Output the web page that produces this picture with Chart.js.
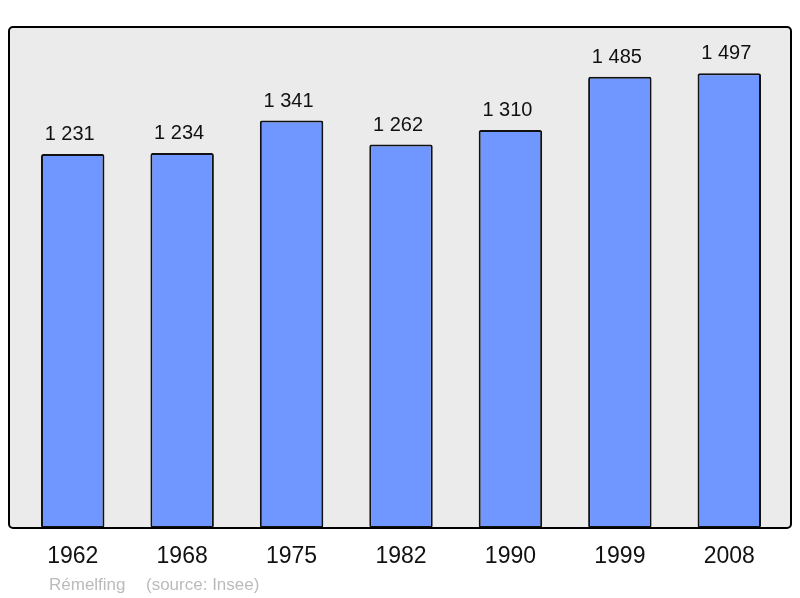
<!DOCTYPE html>
<html>
<head>
<meta charset="utf-8">
<script src="https://cdn.jsdelivr.net/npm/chart.js@4"></script>
<style>
  html, body { margin: 0; padding: 0; background: #fff; }
  #wrap { width: 800px; height: 598px; }
</style>
</head>
<body>
<div id="wrap"><canvas id="myChart" width="800" height="598"></canvas></div>
<script>
// population by census year
years = ["1962", "1968", "1975", "1982", "1990", "1999", "2008"]
population = [1231, 1234, 1341, 1262, 1310, 1485, 1497]
commune = "Rémelfing"
source = "(source: Insee)"

function fmt(n) {
    // french style thousands separator
    return String(n).replace(/\B(?=(\d{3})+(?!\d))/g, " ");
}

// frame, value labels, years and footer
const decorations = {
    id: 'decorations',
    beforeDraw(chart) {
        const ctx = chart.ctx;
        ctx.save();
        ctx.fillStyle = "#ebebeb";
        ctx.beginPath();
        ctx.roundRect(9, 27, 782, 501, 4);
        ctx.fill();
        ctx.restore();
    },
    afterDatasetsDraw(chart) {
        const ctx = chart.ctx;
        const x = chart.scales.x;
        const meta = chart.getDatasetMeta(0);
        ctx.save();
        ctx.strokeStyle = "#000";
        ctx.lineWidth = 2;
        ctx.beginPath();
        ctx.roundRect(9, 27, 782, 501, 4);
        ctx.stroke();

        ctx.textAlign = "center";
        ctx.fillStyle = "#111";
        ctx.font = "20px 'Liberation Sans', Arial, sans-serif";
        ctx.textBaseline = "alphabetic";
        meta.data.forEach((bar, i) => {
            ctx.fillText(fmt(population[i]), bar.x - 3, bar.y - 14);
        });

        ctx.font = "23px 'Liberation Sans', Arial, sans-serif";
        ctx.textBaseline = "middle";
        years.forEach((y, i) => {
            ctx.fillText(y, x.getPixelForValue(i), 557);
        });

        ctx.fillStyle = "#bbbbbb";
        ctx.font = "17px 'Liberation Sans', Arial, sans-serif";
        ctx.textAlign = "left";
        ctx.fillText(commune, 49, 585);
        ctx.fillText(source, 146, 585);
        ctx.restore();
    }
};

function plotBarChart() {
    let myChart = document.getElementById('myChart').getContext('2d');
    let barChart = new Chart(myChart, {
        type: 'bar',
        data: {
            labels: years,
            datasets: [
                {
                    label: "population",
                    data: population,
                    backgroundColor: "#7096ff",
                    borderColor: "#111",
                    borderWidth: 2,
                    borderRadius: 2,
                    borderSkipped: false,
                    barPercentage: 0.58,
                    categoryPercentage: 1
                }
            ]
        },
        options: {
            responsive: false,
            animation: false,
            layout: { padding: { left: 18, right: 16, top: 27, bottom: 70 } },
            plugins: { legend: { display: false }, tooltip: { enabled: false } },
            scales: {
                x: { display: false, offset: true },
                y: { display: false, min: 0, max: 1649 }
            }
        },
        plugins: [decorations]
    });
    return barChart;
}

plotBarChart();
</script>
</body>
</html>
